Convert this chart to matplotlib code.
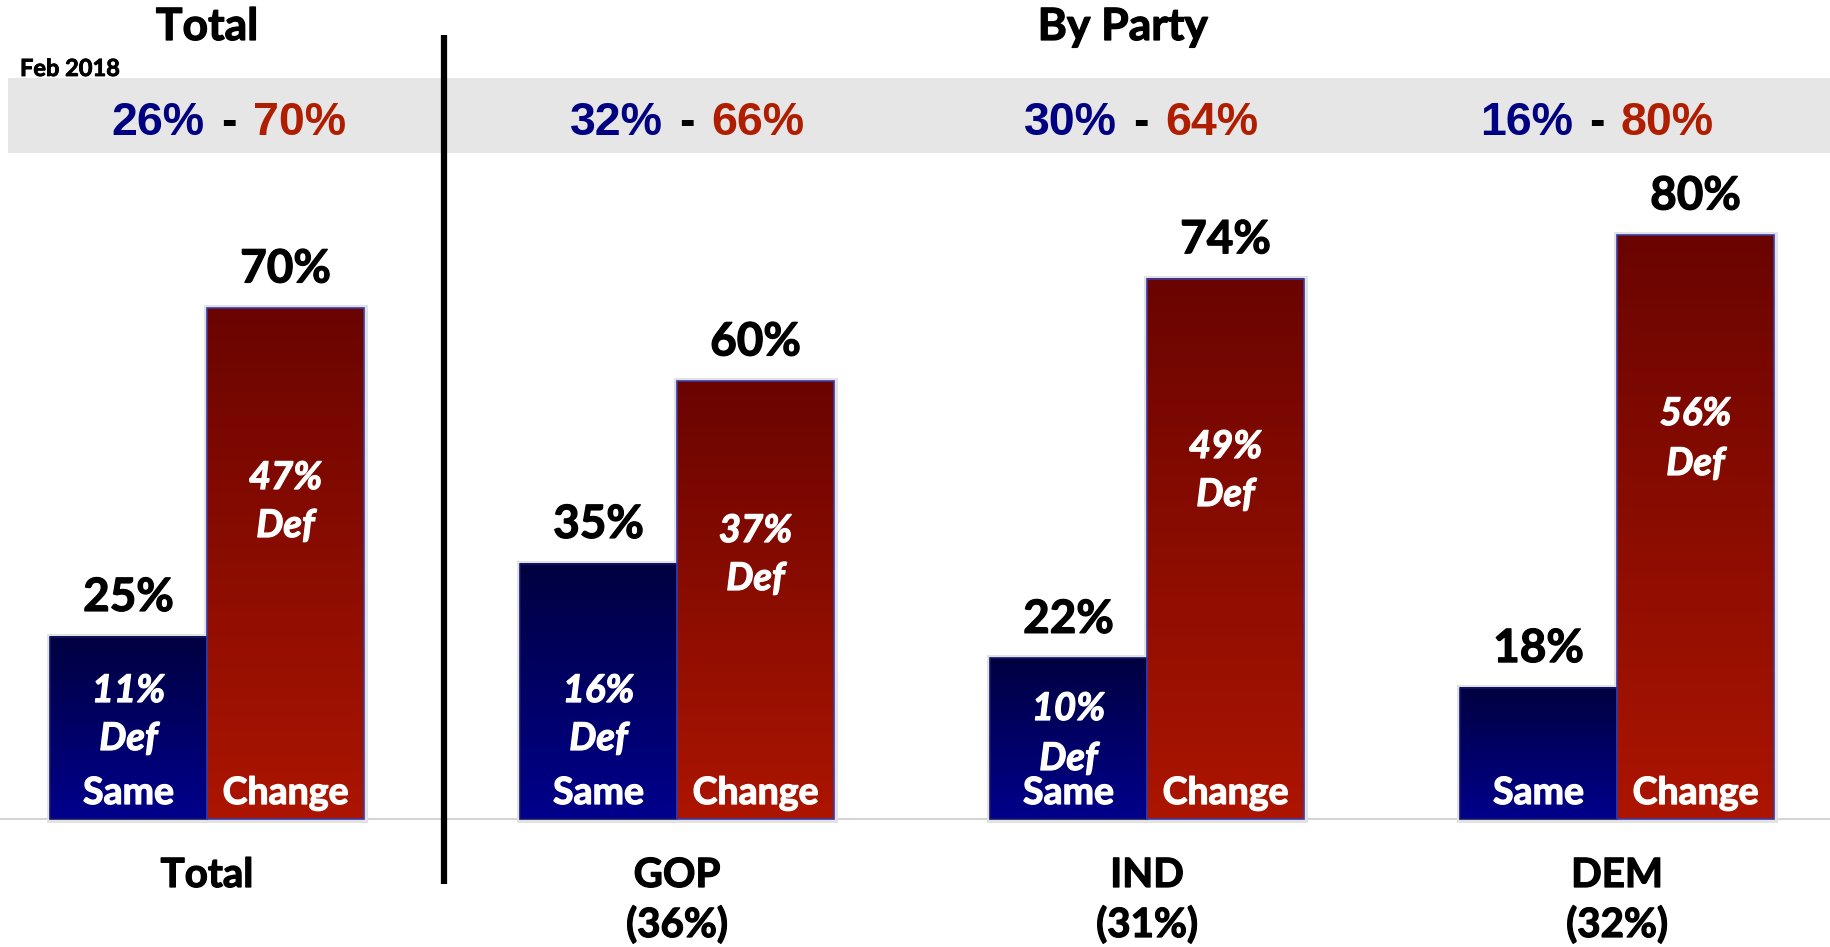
import matplotlib
matplotlib.use('Agg')
import matplotlib.pyplot as plt
import matplotlib.patheffects as pe
import numpy as np
from matplotlib.colors import LinearSegmentedColormap

# ---------------- data ----------------
groups = ['Total', 'GOP', 'IND', 'DEM']
group_shares = ['', '(36%)', '(31%)', '(32%)']
same_vals = [25, 35, 22, 18]
change_vals = [70, 60, 74, 80]
same_def = ['11%', '16%', '10%', None]
change_def = ['47%', '37%', '49%', '56%']
feb_same = ['26%', '32%', '30%', '16%']
feb_change = ['70%', '66%', '64%', '80%']
bar_labels = ['Same', 'Change']

# ---------------- layout ----------------
W, H = 1831, 947
fig = plt.figure(figsize=(W / 100, H / 100), dpi=100)
ax = fig.add_axes([0, 0, 1, 1])
X0, Y0, XS, YS = 207, 819, 470, 7.3


def dx(px):
    return (px - X0) / XS


def dy(py):
    return (Y0 - py) / YS


CAL = ['Lato', 'DejaVu Sans']
ARI = ['Liberation Sans', 'DejaVu Sans']


def thick(color, lw=0.9):
    return [pe.withStroke(linewidth=lw, foreground=color)]


x = np.arange(len(groups))
bw = 157 / 470

# background band and baseline
ax.axhspan(dy(153), dy(78), xmin=8 / W, xmax=1, color='#e6e6e6', zorder=0, lw=0)
ax.axhline(0, color='#d4d4d4', lw=1.5, zorder=0.5)

# shadows
ax.bar(x - bw / 2, same_vals, bw, color='none', edgecolor='#e2e2e2', lw=5, zorder=1)
ax.bar(x + bw / 2, change_vals, bw, color='none', edgecolor='#e2e2e2', lw=5, zorder=1)

same_bars = ax.bar(x - bw / 2, same_vals, bw, color='none', edgecolor='#15156a', lw=1.2, zorder=3)
change_bars = ax.bar(x + bw / 2, change_vals, bw, color='none', edgecolor='#3b3ba6', lw=1.2, zorder=3)

grad = np.linspace(0, 1, 256).reshape(-1, 1)
cmap_blue = LinearSegmentedColormap.from_list('b', ['#00008C', '#000040'])
cmap_red = LinearSegmentedColormap.from_list('r', ['#AC1500', '#6A0400'])
for bars, cm in ((same_bars, cmap_blue), (change_bars, cmap_red)):
    for b in bars:
        bx, by, w, h = b.get_x(), b.get_y(), b.get_width(), b.get_height()
        ax.imshow(grad, extent=(bx, bx + w, by, by + h), origin='lower',
                  cmap=cm, aspect='auto', zorder=2, interpolation='bilinear')

# divider
ax.plot([dx(444), dx(444)], [dy(35), dy(884)], color='black', lw=4.5,
        solid_capstyle='butt', zorder=4)

# titles
ax.text(dx(207), dy(40), 'Total', ha='center', va='baseline', fontsize=32,
        fontweight='bold', family=CAL, path_effects=thick('black'))
ax.text(dx(1123), dy(40), 'By Party', ha='center', va='baseline', fontsize=32,
        fontweight='bold', family=CAL, path_effects=thick('black'))
ax.text(dx(20), dy(76), 'Feb 2018', ha='left', va='baseline', fontsize=17,
        fontweight='bold', family=CAL, path_effects=thick('black', 0.6))

# Feb 2018 band numbers
band_cx = [229, 687, 1141, 1597]
gap = 24 / XS
for i in range(len(groups)):
    cx = dx(band_cx[i])
    yb = dy(135)
    ax.text(cx, yb, '-', ha='center', va='baseline', fontsize=33.5,
            fontweight='bold', family=ARI, color='black')
    ax.text(cx - gap, yb, feb_same[i], ha='right', va='baseline', fontsize=33.5,
            fontweight='bold', family=ARI, color='#000080')
    ax.text(cx + gap, yb, feb_change[i], ha='left', va='baseline', fontsize=33.5,
            fontweight='bold', family=ARI, color='#AF1E00')

# value labels
for bars, vals in ((same_bars, same_vals), (change_bars, change_vals)):
    for b, v in zip(bars, vals):
        ax.text(b.get_x() + b.get_width() / 2, v + 3.5, f'{v}%', ha='center',
                va='baseline', fontsize=33, fontweight='bold', family=CAL,
                zorder=5, path_effects=thick('black'))

# inner labels
same_pct_y = [702, 702, 720, None]
same_word_y = [750, 750, 770, None]
chg_pct_y = [489, 542, 458, 425]
chg_word_y = [537, 590, 506, 475]
ital = dict(ha='center', va='baseline', fontsize=27.5, fontweight='bold',
            fontstyle='italic', color='white', family=CAL, zorder=5,
            path_effects=thick('white'))
for i in range(len(groups)):
    sx = same_bars[i].get_x() + bw / 2
    cx = change_bars[i].get_x() + bw / 2
    if same_def[i] is not None:
        ax.text(sx, dy(same_pct_y[i]), same_def[i], **ital)
        ax.text(sx, dy(same_word_y[i]), 'Def', **ital)
    ax.text(cx, dy(chg_pct_y[i]), change_def[i], **ital)
    ax.text(cx, dy(chg_word_y[i]), 'Def', **ital)
    ax.text(sx, dy(804), bar_labels[0], ha='center', va='baseline', fontsize=27,
            fontweight='bold', color='white', family=CAL, zorder=5,
            path_effects=thick('white'))
    ax.text(cx, dy(804), bar_labels[1], ha='center', va='baseline', fontsize=27,
            fontweight='bold', color='white', family=CAL, zorder=5,
            path_effects=thick('white'))

# category labels
for i, g in enumerate(groups):
    ax.text(x[i], dy(887), g, ha='center', va='baseline', fontsize=29,
            fontweight='bold', family=CAL, path_effects=thick('black'))
    if group_shares[i]:
        ax.text(x[i], dy(937), group_shares[i], ha='center', va='baseline',
                fontsize=29, fontweight='bold', family=CAL,
                path_effects=thick('black'))

ax.set_xlim(dx(0), dx(W))
ax.set_ylim(dy(H), dy(0))
ax.axis('off')
fig.savefig('out.png', dpi=100, facecolor='white')
